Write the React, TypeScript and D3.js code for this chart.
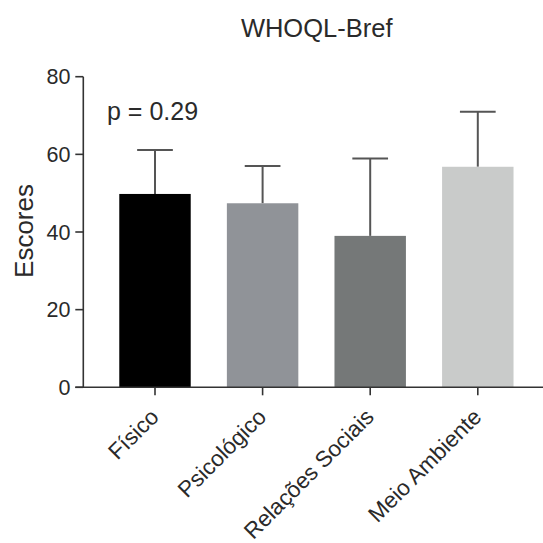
import React from "react";
import * as d3 from "d3";

const categories = ["Físico", "Psicológico", "Relações Sociais", "Meio Ambiente"];
const means = [49.8, 47.4, 39.0, 56.8];
const sds = [11.3, 9.6, 19.9, 14.2];
const barColors = ["#000000", "#909398", "#757878", "#c9cbca"];
const yTicks = [0, 20, 40, 60, 80];
const title = "WHOQL-Bref";
const yLabel = "Escores";
const annotation = "p = 0.29";

export default function App() {
  const W = 543, H = 543;
  const y = d3.scaleLinear().domain([0, 80]).range([387.3, 76.7]);
  const x = d3.scaleBand().domain(categories).range([101.2, 531.6]).paddingInner(0.336).paddingOuter(0.168);
  const axisX = 83.3;
  const font = "'Liberation Sans', Arial, sans-serif";
  const txt = "#2a2a2a";
  return (
    <svg width={W} height={H} style={{ position: "absolute", left: 0, top: 0, background: "#fff" }} fontFamily={font}>
      <text x={316.7} y={37.3} textAnchor="middle" fontSize={25.5} fill={txt}>{title}</text>
      <text x={107} y={120} fontSize={25} fill={txt}>{annotation}</text>
      <text transform={`translate(33.3,231) rotate(-90)`} textAnchor="middle" fontSize={26} fill={txt}>{yLabel}</text>
      {categories.map((c, i) => {
        const bx = x(c)!;
        const bw = x.bandwidth();
        const cx = bx + bw / 2;
        const top = y(means[i] + sds[i]);
        return (
          <g key={c}>
            <line x1={cx} x2={cx} y1={y(means[i])} y2={top} stroke="#555" strokeWidth={2} />
            <line x1={cx - bw / 4} x2={cx + bw / 4} y1={top} y2={top} stroke="#555" strokeWidth={2} />
            <rect x={bx} y={y(means[i])} width={bw} height={y(0) - y(means[i])} fill={barColors[i]} />
            <line x1={cx} x2={cx} y1={y(0)} y2={y(0) + 8} stroke="#333" strokeWidth={1.6} />
            <text transform={`translate(${cx + 5},${y(0) + 31}) rotate(-45)`} textAnchor="end" fontSize={22.5} fill={txt}>{c}</text>
          </g>
        );
      })}
      <line x1={axisX} x2={axisX} y1={y(80)} y2={y(0)} stroke="#333" strokeWidth={1.6} />
      <line x1={axisX - 8} x2={543} y1={y(0)} y2={y(0)} stroke="#333" strokeWidth={1.6} />
      {yTicks.map(t => (
        <g key={t}>
          <line x1={axisX - 8} x2={axisX} y1={y(t)} y2={y(t)} stroke="#333" strokeWidth={1.6} />
          <text x={70.5} y={y(t)} dy="0.36em" textAnchor="end" fontSize={21.5} fill={txt}>{t}</text>
        </g>
      ))}
    </svg>
  );
}
